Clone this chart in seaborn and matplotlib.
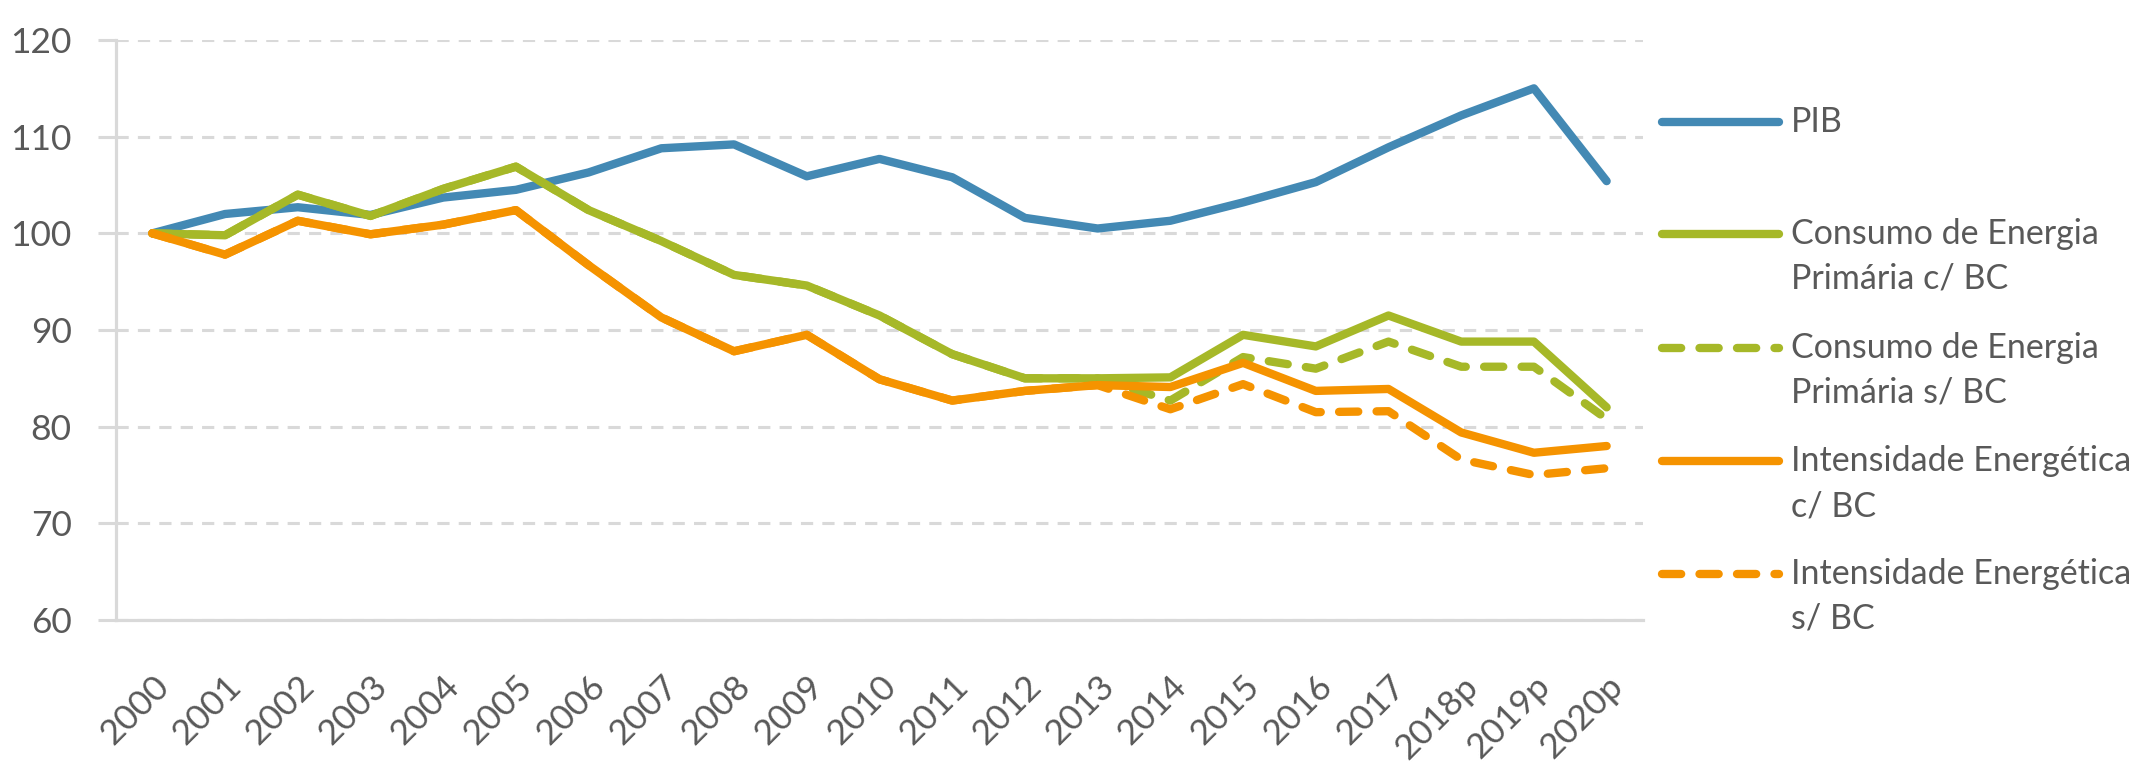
import numpy as np
import pandas as pd
import matplotlib.pyplot as plt
import seaborn as sns
from matplotlib.lines import Line2D

# ==========================================
# DATA (2000 = 100)
# ==========================================
years = ['2000', '2001', '2002', '2003', '2004', '2005', '2006', '2007', '2008',
         '2009', '2010', '2011', '2012', '2013', '2014', '2015', '2016', '2017',
         '2018p', '2019p', '2020p']

pib = [100.0, 102.0, 102.7, 101.9, 103.7, 104.5, 106.3, 108.8, 109.2, 105.9, 107.7,
       105.8, 101.6, 100.5, 101.3, 103.2, 105.3, 108.9, 112.2, 115.0, 105.4]
consumo_cbc = [100.0, 99.8, 104.0, 101.8, 104.6, 106.9, 102.4, 99.2, 95.7, 94.6, 91.5,
               87.5, 85.0, 85.0, 85.1, 89.5, 88.3, 91.5, 88.8, 88.8, 82.0]
consumo_sbc = [100.0, 99.8, 104.0, 101.8, 104.6, 106.9, 102.4, 99.2, 95.7, 94.6, 91.5,
               87.5, 85.0, 85.0, 82.7, 87.2, 86.0, 88.8, 86.2, 86.2, 80.8]
intensidade_cbc = [100.0, 97.8, 101.3, 99.9, 100.9, 102.4, 96.7, 91.3, 87.8, 89.5, 84.9,
                   82.7, 83.7, 84.3, 84.1, 86.6, 83.7, 83.9, 79.4, 77.3, 78.0]
intensidade_sbc = [100.0, 97.8, 101.3, 99.9, 100.9, 102.4, 96.7, 91.3, 87.8, 89.5, 84.9,
                   82.7, 83.7, 84.3, 81.8, 84.4, 81.5, 81.6, 76.6, 75.0, 75.7]

labels = ['PIB',
          'Consumo de Energia\nPrimária c/ BC',
          'Consumo de Energia\nPrimária s/ BC',
          'Intensidade Energética\nc/ BC',
          'Intensidade Energética\ns/ BC']

# ==========================================
# STYLING
# ==========================================
BLUE = '#4389B4'
GREEN = '#A6B828'
ORANGE = '#F59300'
GRID = '#D9D9D9'
TEXT = '#595959'

series = [
    (pib, BLUE, '-'),
    (consumo_cbc, GREEN, '-'),
    (consumo_sbc, GREEN, '--'),
    (intensidade_cbc, ORANGE, '-'),
    (intensidade_sbc, ORANGE, '--'),
]

sns.set_theme(style='white')
plt.rcParams['font.family'] = ['Lato', 'DejaVu Sans']

W, H = 2144, 779
fig = plt.figure(figsize=(W / 100, H / 100), dpi=100)
ax = fig.add_axes([116 / W, 1 - 620 / H, (1643 - 116) / W, (620 - 40) / H])

x = np.arange(len(years))
DASH = (2.3, 2.2)
LW = 6
TICK_FS = 25.5

for vals, color, style in series:
    kw = dict(dashes=DASH, dash_capstyle='round') if style == '--' else dict(solid_capstyle='round')
    sns.lineplot(x=x, y=vals, ax=ax, color=color, lw=LW, solid_joinstyle='round', **kw)

# axes
ax.set_xlim(-0.5, len(years) - 0.5)
ax.set_ylim(60, 120)
ax.set_yticks(np.arange(60, 121, 10))
ax.set_xticks(x)
ax.set_xticklabels(years, rotation=45, ha='right', rotation_mode='anchor')
ax.set_xticks(np.arange(-0.5, len(years)), minor=True)
ax.tick_params(axis='x', which='major', length=0, pad=36, labelsize=TICK_FS, labelcolor=TEXT)
ax.tick_params(axis='x', which='minor', length=12, width=2.2, color=GRID, direction='out')
ax.tick_params(axis='y', length=13, width=2.2, color=GRID, pad=19, labelsize=TICK_FS,
               labelcolor=TEXT, left=True)

ax.grid(axis='y', color=GRID, lw=2.2, ls=(0, (4, 3)))
ax.set_axisbelow(True)
for side in ['top', 'right']:
    ax.spines[side].set_visible(False)
for side in ['left', 'bottom']:
    ax.spines[side].set_color(GRID)
    ax.spines[side].set_linewidth(2.3)

# legend drawn by hand so the key sits on the first text line (like Excel)
entry_y = [122, 234, 348, 461, 574]
for (vals, color, style), label, yy in zip(series, labels, entry_y):
    kw = dict(dashes=DASH, dash_capstyle='round') if style == '--' else dict(solid_capstyle='round')
    fig.add_artist(Line2D([1662 / W, 1779 / W], [1 - yy / H] * 2, color=color, lw=LW,
                          transform=fig.transFigure, **kw))
    for k, line in enumerate(label.split('\n')):
        fig.text(1791 / W, 1 - (yy + 45 * k) / H, line, fontsize=24.5, color=TEXT,
                 ha='left', va='center')

fig.savefig('out.png', dpi=100)
